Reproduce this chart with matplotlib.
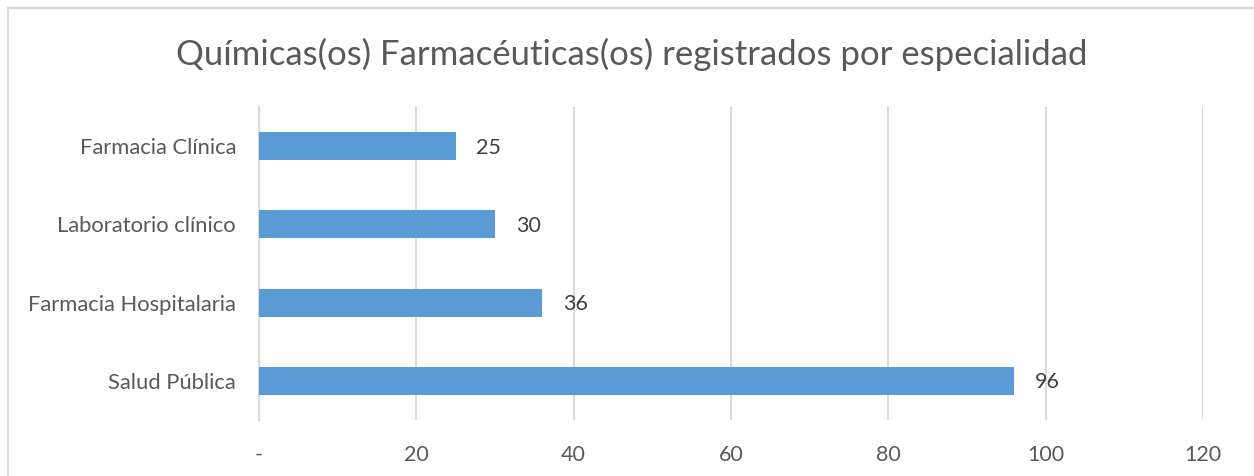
import matplotlib
matplotlib.use("Agg")
import matplotlib.pyplot as plt
from matplotlib.patches import Rectangle

categories = ["Salud Pública", "Farmacia Hospitalaria", "Laboratorio clínico", "Farmacia Clínica"]
values = [96, 36, 30, 25]
xticks = [0, 20, 40, 60, 80, 100, 120]
xtick_labels = ["-", "20", "40", "60", "80", "100", "120"]
title = "Químicas(os) Farmacéuticas(os) registrados por especialidad"

plt.rcParams['font.family'] = ['Lato', 'DejaVu Sans']

W, H = 1254, 476
fig = plt.figure(figsize=(W / 100, H / 100), dpi=100)
fig.patch.set_facecolor("white")

# outer chart frame (top-left visible only)
fig.add_artist(Rectangle((8 / W, -0.1), 1.2, 1 - 8 / H + 0.1, transform=fig.transFigure,
                         fill=False, edgecolor="#d9d9d9", linewidth=1.5))

left, right = 259 / W, 1203 / W
top, bottom = 1 - 107 / H, 1 - 420 / H
ax = fig.add_axes([left, bottom, right - left, top - bottom])

y = list(range(len(categories)))
ax.barh(y, values, height=0.36, color="#5B9BD5", zorder=3)
ax.set_xlim(0, 120)
ax.set_ylim(-0.5, len(categories) - 0.5)
ax.set_yticks(y)
ax.set_yticklabels(categories, fontsize=15.8, color="#595959")
ax.set_xticks(xticks)
ax.set_xticklabels(xtick_labels, fontsize=15.5, color="#595959")
ax.tick_params(axis="both", length=0)
ax.tick_params(axis="y", pad=16.5)
ax.tick_params(axis="x", pad=18)
ax.grid(axis="x", color="#d9d9d9", linewidth=1.5, zorder=0)
for s in ["top", "right", "bottom"]:
    ax.spines[s].set_visible(False)
ax.spines["left"].set_color("#d9d9d9")
ax.spines["left"].set_linewidth(1.5)

for yi, v in zip(y, values):
    ax.annotate(str(v), (v, yi), xytext=(15, -1), textcoords="offset points",
                ha="left", va="center", fontsize=15.5, color="#404040", zorder=4)

fig.text(632 / W, 1 - 54 / H, title, ha="center", va="center", fontsize=25, color="#595959")

fig.savefig("out.png", dpi=100, facecolor="white")
